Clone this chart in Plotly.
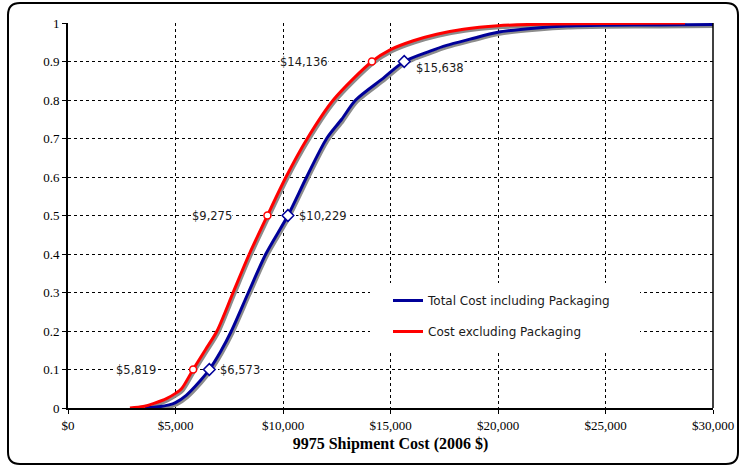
import plotly.graph_objects as go

# ---------------- data ----------------
excl_cost = [2880, 3500, 4000, 4600, 5000, 5280, 5819, 6400, 6930, 7680, 8435, 9275,
             10140, 11130, 12340, 14136, 15000, 16060, 17150, 18390, 20000, 22000, 25000, 28700]
excl_prob = [0.0, 0.004, 0.012, 0.025, 0.038, 0.05, 0.1, 0.152, 0.2, 0.3, 0.4, 0.5,
             0.6, 0.7, 0.8, 0.9, 0.931, 0.954, 0.971, 0.984, 0.993, 0.997, 0.999, 1.0]

incl_cost = [3580, 4200, 4700, 5000, 5500, 6140, 6573, 7100, 7600, 8390, 9200, 10229,
             11100, 12030, 12730, 13380, 14670, 15638, 16840, 17610, 18700, 20000, 21800, 23190,
             25000, 27500, 30200]
incl_prob = [0.0, 0.003, 0.008, 0.014, 0.033, 0.07, 0.1, 0.147, 0.2, 0.3, 0.4, 0.5,
             0.6, 0.7, 0.75, 0.8, 0.857, 0.9, 0.927, 0.942, 0.958, 0.976, 0.987, 0.992,
             0.994, 0.995, 0.996]

pct_levels = [0.1, 0.5, 0.9]
excl_pct_cost = [5819, 9275, 14136]
incl_pct_cost = [6573, 10229, 15638]

x_ticks = [0, 5000, 10000, 15000, 20000, 25000, 30000]
x_tick_labels = ["$0", "$5,000", "$10,000", "$15,000", "$20,000", "$25,000", "$30,000"]
y_ticks = [0, 0.1, 0.2, 0.3, 0.4, 0.5, 0.6, 0.7, 0.8, 0.9, 1.0]
y_tick_labels = ["0", "0.1", "0.2", "0.3", "0.4", "0.5", "0.6", "0.7", "0.8", "0.9", "1"]

series_names = ["Total Cost including Packaging", "Cost excluding Packaging"]
x_title = "9975 Shipment Cost (2006 $)"

# ---------------- styling / layout geometry ----------------
W, H = 743, 467
L, R, T, B = 68, 713, 23, 408
X0, X1 = 0, 30000
BLUE = "#000099"
RED = "#ff0000"
SHADOW = "#8c8c8c"

# shadow offset in pixels, turned into data units
sdx = 1.5 * (X1 - X0) / (R - L)
sdy = 2.0 / (B - T)


def px(xp):
    return (xp - L) / (R - L)


def py(yp):
    return (B - yp) / (B - T)


fig = go.Figure()

line_shape = dict(shape="spline", smoothing=0.8)

# shadows
for xs, ys in [(incl_cost, incl_prob), (excl_cost, excl_prob)]:
    fig.add_trace(go.Scatter(x=[v + sdx for v in xs], y=[v - sdy for v in ys], mode="lines",
                             line=dict(color=SHADOW, width=3, **line_shape),
                             showlegend=False, hoverinfo="skip"))

fig.add_trace(go.Scatter(x=incl_cost, y=incl_prob, mode="lines", name=series_names[0],
                         line=dict(color=BLUE, width=3, **line_shape), legendgroup="a"))
fig.add_trace(go.Scatter(x=excl_cost, y=excl_prob, mode="lines", name=series_names[1],
                         line=dict(color=RED, width=3, **line_shape), legendgroup="b"))

# percentile markers
fig.add_trace(go.Scatter(x=excl_pct_cost, y=pct_levels, mode="markers", showlegend=False,
                         marker=dict(symbol="circle", size=7, color="white",
                                     line=dict(color=RED, width=1.5))))
fig.add_trace(go.Scatter(x=incl_pct_cost, y=pct_levels, mode="markers", showlegend=False,
                         marker=dict(symbol="diamond", size=9, color="white",
                                     line=dict(color=BLUE, width=1.5))))

ann_font = dict(family="DejaVu Sans", size=11.5, color="#1a1a1a")
red_shift = [-36, -34, -43]
blue_shift = [10, 10, 11]
blue_yshift = [0, 0, -6]
for i, (c, p) in enumerate(zip(excl_pct_cost, pct_levels)):
    fig.add_annotation(x=c, y=p, text="${:,}".format(c), showarrow=False, xanchor="right",
                       xshift=red_shift[i], font=ann_font, bgcolor="white", borderpad=0)
for i, (c, p) in enumerate(zip(incl_pct_cost, pct_levels)):
    fig.add_annotation(x=c, y=p, text="${:,}".format(c), showarrow=False, xanchor="left",
                       xshift=blue_shift[i], yshift=blue_yshift[i], font=ann_font,
                       bgcolor="white", borderpad=0)

# rounded outer frame
fl, fr, ft, fb, rr = 8, 738, 3, 464, 12
path = (f"M {px(fl+rr)},{py(ft)} L {px(fr-rr)},{py(ft)} Q {px(fr)},{py(ft)} {px(fr)},{py(ft+rr)} "
        f"L {px(fr)},{py(fb-rr)} Q {px(fr)},{py(fb)} {px(fr-rr)},{py(fb)} "
        f"L {px(fl+rr)},{py(fb)} Q {px(fl)},{py(fb)} {px(fl)},{py(fb-rr)} "
        f"L {px(fl)},{py(ft+rr)} Q {px(fl)},{py(ft)} {px(fl+rr)},{py(ft)} Z")
fig.add_shape(type="path", path=path, xref="paper", yref="paper",
              line=dict(color="black", width=2), layer="above")
# right border of plot area
fig.add_shape(type="line", x0=1, x1=1, y0=0, y1=1, xref="paper", yref="paper",
              line=dict(color="black", width=1.5), layer="above")
# white legend box
fig.add_shape(type="rect", x0=px(370), x1=px(640), y0=py(352), y1=py(283), xref="paper", yref="paper",
              fillcolor="white", line=dict(width=0), layer="above")

tick_font = dict(family="Liberation Serif, Times New Roman, serif", size=13, color="black")
fig.update_xaxes(range=[X0, X1], tickmode="array", tickvals=x_ticks, ticktext=x_tick_labels,
                 showgrid=True, gridcolor="black", gridwidth=1, griddash="3px,3px",
                 showline=True, linecolor="black", linewidth=2, ticks="outside", ticklen=4,
                 tickcolor="black", tickfont=tick_font, zeroline=False,
                 title=dict(text="<b>" + x_title + "</b>",
                            font=dict(family="Liberation Serif, Times New Roman, serif", size=16,
                                      color="black"),
                            standoff=6))
fig.update_yaxes(range=[0, 1], tickmode="array", tickvals=y_ticks, ticktext=y_tick_labels,
                 showgrid=True, gridcolor="black", gridwidth=1,
                 griddash="3px,3px", showline=True, linecolor="black", linewidth=2,
                 ticks="outside", ticklen=4, tickcolor="black", tickfont=tick_font, zeroline=False)

fig.update_layout(
    width=W, height=H,
    margin=dict(l=L, r=W - R, t=T, b=H - B, autoexpand=False),
    paper_bgcolor="white", plot_bgcolor="white",
    showlegend=True,
    legend=dict(x=px(388), y=py(286), xanchor="left", yanchor="top",
                bgcolor="rgba(0,0,0,0)", font=dict(family="DejaVu Sans", size=12, color="#1a1a1a"),
                traceorder="grouped", tracegroupgap=12, itemwidth=30),
    hovermode=False,
)

fig.write_html("out.html", config={"displayModeBar": False},
               post_script="document.body.style.margin='0';document.body.style.overflow='hidden';")
